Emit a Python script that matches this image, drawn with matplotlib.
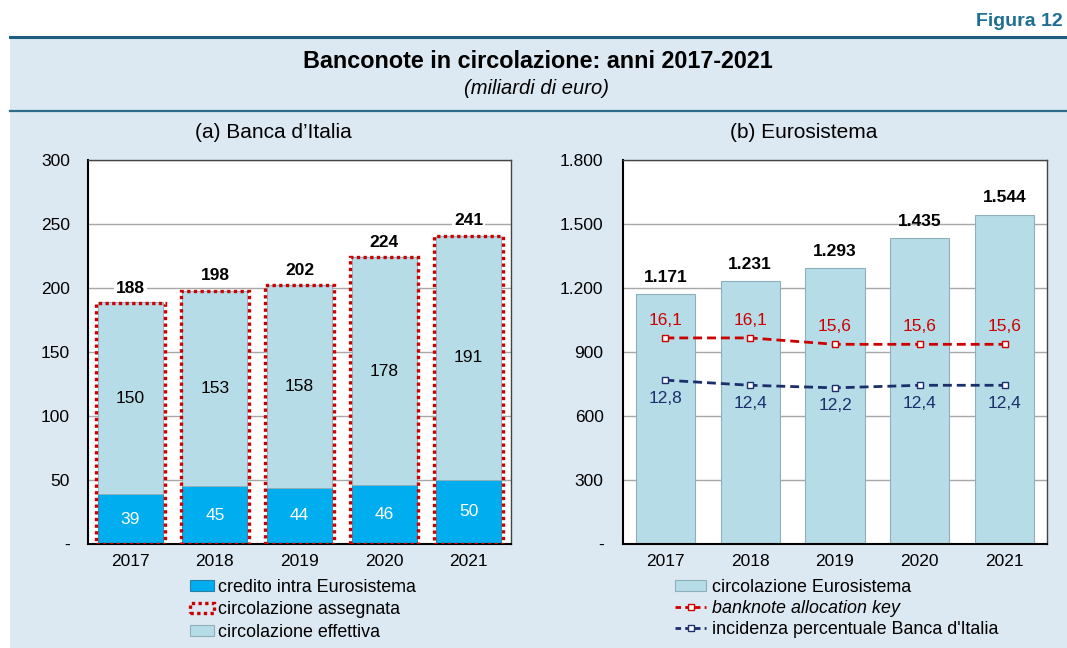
import matplotlib
matplotlib.use("Agg")
import matplotlib.pyplot as plt
from matplotlib.patches import Patch, Rectangle
from matplotlib.lines import Line2D

plt.rcParams['font.family'] = ['Liberation Sans', 'DejaVu Sans']

# ---------------- data ----------------
years = ["2017", "2018", "2019", "2020", "2021"]
credito_intra = [39, 45, 44, 46, 50]
circ_effettiva = [150, 153, 158, 178, 191]
circ_assegnata = [188, 198, 202, 224, 241]

circ_eurosistema = [1171, 1231, 1293, 1435, 1544]
allocation_key = [16.1, 16.1, 15.6, 15.6, 15.6]
incidenza = [12.8, 12.4, 12.2, 12.4, 12.4]

left_yticks = [0, 50, 100, 150, 200, 250, 300]
right_yticks = [0, 300, 600, 900, 1200, 1500, 1800]

# ---------------- colours ----------------
BG = "#dde9f2"
HEAD = "#1d5d7e"
LIGHT = "#b6dce7"
LIGHT_EDGE = "#8fb0bb"
BLUE = "#00aeef"
BLUE_EDGE = "#2a7fa5"
RED = "#cc0000"
NAVY = "#1b2f6b"
GRID = "#a8a8a8"


def it_int(v):
    return f"{v:,}".replace(",", ".")


def it_dec(v):
    return f"{v:.1f}".replace(".", ",")


W, H = 1067, 648
fig = plt.figure(figsize=(W / 100, H / 100), dpi=100, facecolor="white")

# background band
fig.add_artist(Rectangle((10 / W, 0), 1 - 10 / W, 1 - 37 / H, transform=fig.transFigure,
                         facecolor=BG, edgecolor="none", zorder=0))
fig.add_artist(Line2D([10 / W, 1], [1 - 37 / H] * 2, transform=fig.transFigure,
                      color=HEAD, lw=2.2, zorder=1))
fig.add_artist(Line2D([10 / W, 1], [1 - 111 / H] * 2, transform=fig.transFigure,
                      color="#2f6b8a", lw=1.6, zorder=1))

fig.text(1063 / W, 1 - 22 / H, "Figura 12", ha="right", va="center", fontsize=14,
         fontweight="bold", color="#1f6f93")
fig.text(538 / W, 1 - 62 / H, "Banconote in circolazione: anni 2017-2021", ha="center",
         va="center", fontsize=16.8, fontweight="bold", color="black")
fig.text(537 / W, 1 - 89 / H, "(miliardi di euro)", ha="center", va="center",
         fontsize=14.5, style="italic", color="black")

axl = fig.add_axes([88 / W, 1 - 544 / H, 423 / W, 384 / H])
axr = fig.add_axes([623 / W, 1 - 544 / H, 424 / W, 384 / H])

x = list(range(len(years)))


def style_axes(ax, yticks, ylabels, ypad):
    ax.set_facecolor("white")
    ax.set_xlim(-0.5, len(years) - 0.5)
    ax.set_ylim(yticks[0], yticks[-1])
    ax.set_yticks(yticks)
    ax.set_yticklabels(ylabels)
    ax.set_xticks(x)
    ax.set_xticklabels(years)
    ax.tick_params(axis="y", length=0, pad=ypad, labelsize=12.5)
    ax.tick_params(axis="x", direction="in", length=4, width=1, pad=7, labelsize=12.5)
    ax.yaxis.grid(True, color=GRID, lw=1)
    ax.set_axisbelow(True)
    for s in ("left", "bottom"):
        ax.spines[s].set_color("black")
        ax.spines[s].set_linewidth(1.5)
    for s in ("top", "right"):
        ax.spines[s].set_color("#444444")
        ax.spines[s].set_linewidth(1.0)


# ---------------- left chart ----------------
style_axes(axl, left_yticks, ["-"] + [str(v) for v in left_yticks[1:]], 13)
axl.bar(x, credito_intra, width=0.77, color=BLUE, edgecolor=BLUE_EDGE, lw=0.6, zorder=2)
axl.bar(x, circ_effettiva, width=0.77, bottom=credito_intra, color=LIGHT,
        edgecolor=LIGHT_EDGE, lw=0.6, zorder=2)
axl.bar(x, circ_assegnata, width=0.81, facecolor="none", edgecolor=RED, lw=2.4,
        linestyle=(0, (1, 1)), zorder=3)
for i in x:
    axl.text(i, credito_intra[i] / 2, str(credito_intra[i]), ha="center", va="center",
             fontsize=12.5, color="white", zorder=4)
    axl.text(i, credito_intra[i] + circ_effettiva[i] / 2, str(circ_effettiva[i]),
             ha="center", va="center", fontsize=12.5, color="black", zorder=4)
    axl.annotate(str(circ_assegnata[i]), (i, circ_assegnata[i]), xytext=(0, 11),
                 textcoords="offset points", ha="center", va="center", fontsize=12.5,
                 fontweight="bold", zorder=5,
                 bbox=dict(facecolor="white", edgecolor="none", pad=1.5))
fig.text(273 / W, 1 - 133 / H, "(a) Banca d\u2019Italia", ha="center", va="center",
         fontsize=15)

# ---------------- right chart ----------------
style_axes(axr, right_yticks, ["-"] + [it_int(v) for v in right_yticks[1:]], 14)
axr.bar(x, circ_eurosistema, width=0.70, color=LIGHT, edgecolor=LIGHT_EDGE,
        lw=0.8, zorder=2)
for i in x:
    axr.annotate(it_int(circ_eurosistema[i]), (i, circ_eurosistema[i]), xytext=(0, 12),
                 textcoords="offset points", ha="center", va="center", fontsize=12.5,
                 fontweight="bold", zorder=5)
fig.text(804 / W, 1 - 133 / H, "(b) Eurosistema", ha="center", va="center",
         fontsize=15)

ax2 = axr.twinx()
ax2.set_ylim(0, 30)
ax2.set_axis_off()
ax2.plot(x, allocation_key, color=RED, lw=2, dashes=(3.2, 1.8), marker="s",
         markersize=5, markerfacecolor="white", markeredgecolor=RED, mew=1)
ax2.plot(x, incidenza, color=NAVY, lw=2, dashes=(3.2, 1.8), marker="s",
         markersize=5, markerfacecolor="white", markeredgecolor=NAVY, mew=1)
for i in x:
    ax2.annotate(it_dec(allocation_key[i]), (i, allocation_key[i]), xytext=(0, 12.5),
                 textcoords="offset points", ha="center", va="center", fontsize=12.5,
                 color=RED)
    ax2.annotate(it_dec(incidenza[i]), (i, incidenza[i]), xytext=(0, -13),
                 textcoords="offset points", ha="center", va="center", fontsize=12.5,
                 color=NAVY)

# ---------------- legends ----------------
h_left = [
    Patch(facecolor=BLUE, edgecolor=BLUE_EDGE, lw=0.8),
    Patch(facecolor="none", edgecolor=RED, lw=2.4, linestyle=(0, (1, 1))),
    Patch(facecolor=LIGHT, edgecolor=LIGHT_EDGE, lw=0.8),
]
lab_left = ["credito intra Eurosistema", "circolazione assegnata", "circolazione effettiva"]
fig.legend(h_left, lab_left, loc="upper left", bbox_to_anchor=(190 / W, 1 - 579 / H),
           frameon=False, fontsize=12.9, handlelength=1.35, handleheight=0.55,
           handletextpad=0.2, labelspacing=0.3, borderpad=0, borderaxespad=0)

h_right = [
    Patch(facecolor=LIGHT, edgecolor=LIGHT_EDGE, lw=0.8),
    Line2D([], [], color=RED, lw=2, dashes=(2, 1.5), marker="s", markersize=5,
           markerfacecolor="white", markeredgecolor=RED, mew=1),
    Line2D([], [], color=NAVY, lw=2, dashes=(2, 1.5), marker="s", markersize=5,
           markerfacecolor="white", markeredgecolor=NAVY, mew=1),
]
lab_right = ["circolazione Eurosistema", "banknote allocation key",
             "incidenza percentuale Banca d'Italia"]
leg_r = fig.legend(h_right, lab_right, loc="upper left",
                   bbox_to_anchor=(675 / W, 1 - 579 / H), frameon=False, fontsize=12.9,
                   handlelength=1.75, handleheight=0.55, handletextpad=0.3,
                   labelspacing=0.22, borderpad=0, borderaxespad=0)
leg_r.get_texts()[1].set_style("italic")

fig.savefig("out.png", dpi=100, facecolor="white")
